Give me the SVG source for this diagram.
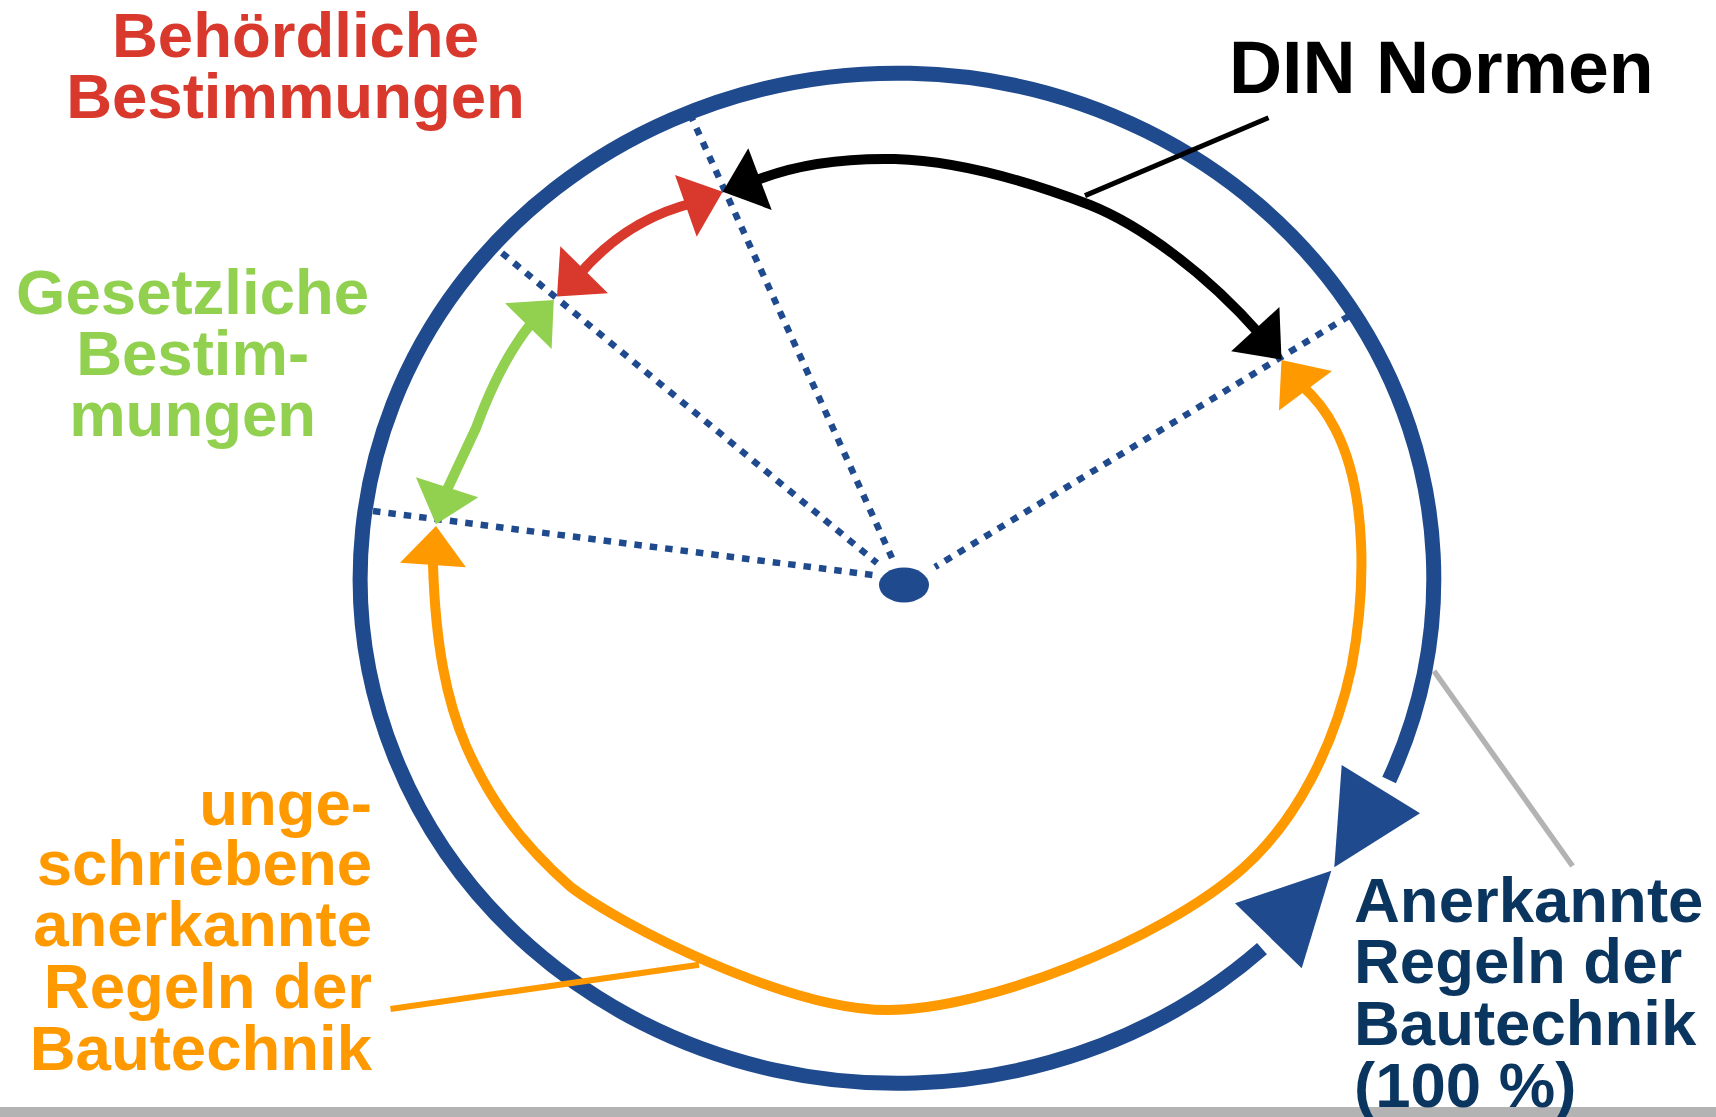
<svg xmlns="http://www.w3.org/2000/svg" width="1716" height="1117" viewBox="0 0 1716 1117">
<style>
.t{font-family:"Liberation Sans",Arial,"DejaVu Sans",sans-serif;font-weight:bold;font-size:63.5px}
.red{fill:#d9382c}.green{fill:#92d050}.orange{fill:#ff9900}.navy{fill:#0a355f}.blk{fill:#000000}
.dot{fill:none;stroke:#1f4a8d;stroke-width:6.5;stroke-dasharray:7.5 8}
.shaft{fill:none;stroke-linecap:butt;stroke-linejoin:round}
.ring{fill:none;stroke:#1f4a8d;stroke-width:15}
.headBlue{fill:#1f4a8d}.headBlk{fill:#000}.headRed{fill:#d9382c}.headGreen{fill:#92d050}.headOrange{fill:#ff9900}
.lead{fill:none;stroke-linecap:butt}
</style>
<rect x="0" y="0" width="1716" height="1117" fill="#ffffff"/>
<rect x="0" y="1107" width="1716" height="10" fill="#b3b3b3"/>

<g id="connectors">
  <g id="ring">
    <path class="ring" d="M 1262 948.6 A 536.8 505.1 0 1 1 1389.1 780"/>
    <polygon class="headBlue" points="1341.7,765 1420,813.3 1334.3,867.3"/>
    <polygon class="headBlue" points="1235,903.3 1301.7,968.3 1331.3,870.7"/>
  </g>
  <g id="radii">
    <line class="dot" x1="690" y1="114" x2="892" y2="558"/>
    <line class="dot" x1="502" y1="253" x2="877" y2="563"/>
    <line class="dot" x1="373" y1="511" x2="873" y2="575"/>
    <line class="dot" x1="1349" y1="316" x2="935" y2="567"/>
  </g>
  <g id="arrow-din">
    <path class="shaft" stroke="#000" stroke-width="10" d="M 752 182 C 795 164 845 158 895 159 C 960 161 1030 182 1090 205 C 1140 225 1205 272 1260.5 335"/>
    <polygon class="headBlk" points="722.7,191.7 748.3,148.3 771.7,210"/>
    <polygon class="headBlk" points="1281.5,359.5 1279.4,307 1231.2,351.3"/>
  </g>
  <g id="arrow-behoerd">
    <path class="shaft" stroke="#d9382c" stroke-width="10" d="M 693 203 Q 625 220 578 276"/>
    <polygon class="headRed" points="722.7,191.7 675,175 696.7,236.7"/>
    <polygon class="headRed" points="557,296.6 560.3,246.2 608,293.3"/>
  </g>
  <g id="arrow-gesetz">
    <path class="shaft" stroke="#92d050" stroke-width="10" d="M 533 321 C 505 355 488 395 476 428 L 445 494"/>
    <polygon class="headGreen" points="553.8,299.9 505,303.2 551.6,349.1"/>
    <polygon class="headGreen" points="436,524.3 415.9,477.2 478.3,497.3"/>
  </g>
  <g id="arrow-unge">
    <path class="shaft" stroke="#ff9900" stroke-width="10" d="M 433.5 558 L 433 565 C 435.6 645.7 446.5 700.4 466.2 746.4 C 487 793.4 515 838 570.2 886.5 C 620 925 788 1010.1 887.6 1010.1 C 985 1010.1 1160 941.2 1242.2 869 C 1296.9 821 1335.2 744.2 1351.6 666.5 C 1365.8 591 1368 492.5 1335.2 429 Q 1322 403 1301 385"/>
    <polygon class="headOrange" points="436,526 400,562.7 466,567.3"/>
    <polygon class="headOrange" points="1281.5,360 1332,371 1279,410.5"/>
  </g>
  <g id="leaders">
    <line class="lead" stroke="#000" stroke-width="5" x1="1085" y1="195.6" x2="1268.5" y2="117.8"/>
    <line class="lead" stroke="#ff9900" stroke-width="6" x1="390.5" y1="1009" x2="699" y2="964.7"/>
    <line class="lead" stroke="#b3b3b3" stroke-width="5.5" x1="1434" y1="671" x2="1572.5" y2="866"/>
  </g>
</g>

<g id="center">
  <ellipse cx="904" cy="585" rx="25" ry="17.5" fill="#1f4a8d"/>
</g>

<g id="label-behoerdliche">
  <text class="t red" text-anchor="middle" x="295.5" y="57">Behördliche</text>
  <text class="t red" text-anchor="middle" x="295.5" y="118">Bestimmungen</text>
</g>
<g id="label-din">
  <text class="t blk" x="1229" y="93" style="font-size:73.5px">DIN Normen</text>
</g>
<g id="label-gesetzliche">
  <text class="t green" text-anchor="middle" x="192.6" y="314">Gesetzliche</text>
  <text class="t green" text-anchor="middle" x="192.6" y="375">Bestim-</text>
  <text class="t green" text-anchor="middle" x="192.6" y="436">mungen</text>
</g>
<g id="label-ungeschrieben">
  <text class="t orange" text-anchor="end" x="372" y="824.5">unge-</text>
  <text class="t orange" text-anchor="end" x="372" y="885">schriebene</text>
  <text class="t orange" text-anchor="end" x="372" y="946">anerkannte</text>
  <text class="t orange" text-anchor="end" x="372" y="1008">Regeln der</text>
  <text class="t orange" text-anchor="end" x="372" y="1069.5">Bautechnik</text>
</g>
<g id="label-anerkannte">
  <text class="t navy" x="1354" y="922">Anerkannte</text>
  <text class="t navy" x="1354" y="983">Regeln der</text>
  <text class="t navy" x="1354" y="1044.5">Bautechnik</text>
  <text class="t navy" x="1354" y="1106.5">(100 %)</text>
</g>
</svg>
